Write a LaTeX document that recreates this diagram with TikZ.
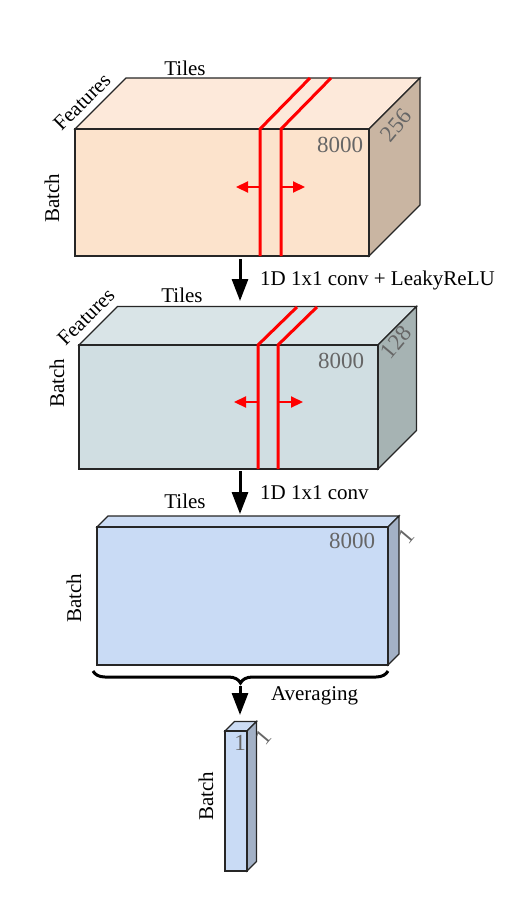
\documentclass[tikz,border=0pt]{standalone}
\usepackage{fontspec}
\setmainfont{Liberation Serif}
\usepackage{tikz}
\usetikzlibrary{calc,arrows.meta,decorations.pathreplacing}

\definecolor{peachfront}{HTML}{FCE3CC}
\definecolor{peachtop}{HTML}{FDE9DA}
\definecolor{peachside}{HTML}{C9B5A2}
\definecolor{slatefront}{HTML}{D0DEE2}
\definecolor{slatetop}{HTML}{D9E4E7}
\definecolor{slateside}{HTML}{A6B3B3}
\definecolor{bluefront}{HTML}{C9DBF5}
\definecolor{bluetop}{HTML}{CCDCF4}
\definecolor{blueside}{HTML}{A3B1C6}
\definecolor{numgray}{HTML}{666666}

% a box seen in perspective: name, front top-left, front bottom-right, depth, colours
\newcommand{\cuboid}[9]{%
  \coordinate (#1-tl) at (#2,#3);
  \coordinate (#1-br) at (#4,#5);
  \coordinate (#1-tr) at (#4,#3);
  \coordinate (#1-bl) at (#2,#5);
  \filldraw[boxedge, fill=#8] (#1-tl) -- ++(#6,-#6) -- ($(#1-tr)+(#6,-#6)$) -- (#1-tr) -- cycle;
  \filldraw[boxedge, fill=#9] (#1-tr) -- ++(#6,-#6) -- ($(#1-br)+(#6,-#6)$) -- (#1-br) -- cycle;
  \filldraw[boxedge, fill=#7] (#1-tl) rectangle (#1-br);
}

\begin{document}
\begin{tikzpicture}[x=0.5pt, y=-0.5pt,
    boxedge/.style={draw=black!85, line width=0.6pt},
    txt/.style={font=\fontsize{10.5}{12}\selectfont},
    dimnum/.style={font=\fontsize{11.5}{13}\selectfont, text=numgray},
    cut/.style={red, line width=1.5pt},
    slide/.style={red, line width=1.1pt, -{Triangle[length=6pt,width=5.5pt]}},
    flow/.style={line width=1.5pt, -{Triangle[length=11pt,width=8pt]}}]
    \useasboundingbox (0,0) rectangle (514,900);

    % 1. First feature map (256 features)
    \cuboid{fa}{75}{129}{369}{256}{51}{peachfront}{peachtop}{peachside}
    \draw[cut] (260,256) -- (260,129) -- ++(50,-51);
    \draw[cut] (281,256) -- (281,129) -- ++(50,-51);
    \draw[slide] (260,187) -- (236,187);
    \draw[slide] (281,187) -- (305,187);
    \node[txt] (fa-tiles) at (185,68) {Tiles};
    \node[txt, rotate=45] (fa-feat) at (82,102) {Features};
    \node[txt, rotate=90] (fa-batch) at (52,198) {Batch};
    \node[dimnum] (fa-len) at (340,145) {8000};
    \node[dimnum, rotate=50] (fa-dep) at (396,125) {256};

    % 2. Second feature map (128 features)
    \cuboid{fb}{79}{345}{378}{469}{38.5}{slatefront}{slatetop}{slateside}
    \draw[cut] (258,469) -- (258,345) -- ++(39,-38);
    \draw[cut] (278,469) -- (278,345) -- ++(39,-38);
    \draw[slide] (258,402) -- (234,402);
    \draw[slide] (278,402) -- (303,402);
    \node[txt] (fb-tiles) at (182,295) {Tiles};
    \node[txt, rotate=45] (fb-feat) at (86,317) {Features};
    \node[txt, rotate=90] (fb-batch) at (57,383) {Batch};
    \node[dimnum] (fb-len) at (341,361) {8000};
    \node[dimnum, rotate=50] (fb-dep) at (396,342) {128};

    % 3. Score map (1 feature)
    \cuboid{fc}{97}{527}{388}{665}{11}{bluefront}{bluetop}{blueside}
    \node[txt] (fc-tiles) at (185,501) {Tiles};
    \node[txt, rotate=90] (fc-batch) at (74,598) {Batch};
    \node[dimnum] (fc-len) at (352,541) {8000};
    \node[dimnum, rotate=50] (fc-dep) at (406,536) {1};

    % 4. Averaged output
    \cuboid{fd}{225}{731}{247}{871}{9.5}{bluefront}{bluetop}{blueside}
    \node[txt, rotate=90] (fd-batch) at (206,796) {Batch};
    \node[dimnum] (fd-len) at (240,743) {1};
    \node[dimnum, rotate=50] (fd-dep) at (263,737) {1};

    % 5. Arrows between the maps
    \coordinate (a1s) at (240,259);
    \coordinate (a1e) at (240,301);
    \draw[flow] (a1s) -- (a1e) node[txt, midway, right=6pt] (a1-txt) {1D 1x1 conv + LeakyReLU};
    \coordinate (a2s) at (240,471);
    \coordinate (a2e) at (240,514);
    \draw[flow] (a2s) -- (a2e) node[txt, midway, right=6pt] (a2-txt) {1D 1x1 conv};

    % brace over the tiles, then averaging
    \draw[line width=1.5pt, decorate, decoration={brace, mirror, amplitude=6pt}]
        (93,671) -- (388,671) coordinate[pos=0.5] (brace-mid);
    \coordinate (a3s) at (240,686);
    \coordinate (a3e) at (240,715);
    \draw[flow] (a3s) -- (a3e);
    \node[txt, anchor=west] (a3-txt) at (264,696) {Averaging};
\end{tikzpicture}
\end{document}
